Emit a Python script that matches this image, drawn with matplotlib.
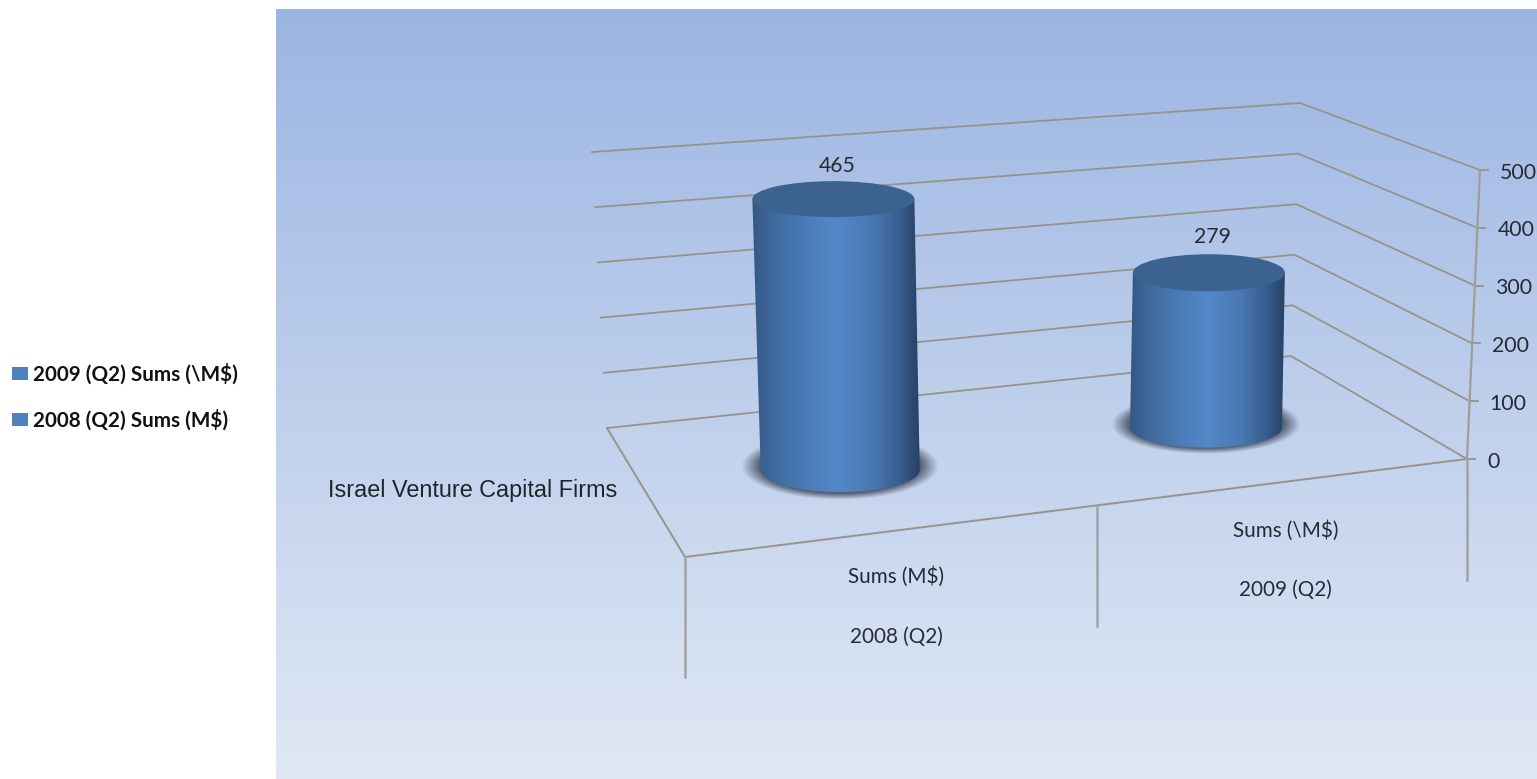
import numpy as np
import matplotlib
matplotlib.use("Agg")
import matplotlib.pyplot as plt
from matplotlib.patches import Ellipse, Patch, PathPatch
from matplotlib.path import Path

W, H = 1537, 779

years = ["2008 (Q2)", "2009 (Q2)"]
measures = ["Sums (M$)", "Sums (\\M$)"]
sums = [465, 279]
value_ticks = [0, 100, 200, 300, 400, 500]
legend_labels = ["2009 (Q2) Sums (\\M$)", "2008 (Q2) Sums (M$)"]
floor_title = "Israel Venture Capital Firms"

VMAX = 500.0
# corners of the 3d box in pixels: (across, depth) -> base, top
BASE = {(0, 0): (607, 428), (1, 0): (1291, 356), (0, 1): (685, 557), (1, 1): (1467, 459)}
TOP = {(0, 0): (592, 152), (1, 0): (1300, 103), (0, 1): (672, 236), (1, 1): (1480, 170)}

GRID = "#98938a"
BAR = "#4f81bd"
TEXT = "#262b33"


def project(u, d, v):
    def blend(c):
        p = np.array(c[(0, 0)]) * (1 - u) * (1 - d) + np.array(c[(1, 0)]) * u * (1 - d)
        return p + np.array(c[(0, 1)]) * (1 - u) * d + np.array(c[(1, 1)]) * u * d
    return blend(BASE) + (blend(TOP) - blend(BASE)) * v / VMAX


fig = plt.figure(figsize=(W / 100, H / 100), dpi=100)
ax = fig.add_axes([0, 0, 1, 1])
ax.axis("off")

# panel background
grad_pos = [0.0, 0.5, 1.0]
grad_col = np.array([[155, 181, 227], [190, 207, 236], [224, 232, 245]]) / 255
t = np.linspace(0, 1, 400)
panel = np.stack([np.interp(t, grad_pos, grad_col[:, i]) for i in range(3)], axis=1)[:, None, :]
ax.imshow(panel, extent=(276, W, H, 9), aspect="auto", zorder=0)

# walls and floor
for v in value_ticks:
    pts = np.array([project(0, 0, v), project(1, 0, v), project(1, 1, v)])
    ax.plot(pts[:, 0], pts[:, 1], color=GRID, lw=1.3, zorder=2)
    ax.plot([pts[2, 0], pts[2, 0] + 8], [pts[2, 1], pts[2, 1]], color=GRID, lw=1.3, zorder=2)
    ax.text(pts[2, 0] + 20, pts[2, 1] + 2.5, str(v), fontsize=15.3, family="Lato", color=TEXT,
            ha="left", va="center", zorder=6)

floor = np.array([project(1, 1, 0), project(0, 1, 0), project(0, 0, 0)])
ax.plot(floor[:, 0], floor[:, 1], color=GRID, lw=1.4, zorder=2)
axis_line = np.array([project(1, 1, 0), project(1, 1, VMAX)])
ax.plot(axis_line[:, 0], axis_line[:, 1], color="#a09d98", lw=1.6, zorder=2)

# category dividers below the floor
for u, drop in zip([0.0, 0.527, 1.0], [120, 121, 121]):
    x, y = project(u, 1, 0)
    ax.plot([x, x], [y, y + drop], color="#a3a3a3", lw=1.8, zorder=2)

bar_u = [0.265, 0.764]
half_w = [81, 76]
base_w = [79.5, 76]
top_h = [18, 18.5]
base_h = [22, 20]
label_gap = [33, 36]
shadow = [(99, 34), (95, 30)]
stops = [0.0, 0.12, 0.3, 0.5, 0.72, 0.88, 1.0]
stop_col = np.array([[52, 88, 132], [62, 105, 156], [74, 122, 181], [83, 136, 201],
                     [73, 120, 178], [56, 94, 142], [38, 66, 102]]) / 255
ramp = np.linspace(0, 1, 256)
shade = np.stack([np.interp(ramp, stops, stop_col[:, i]) for i in range(3)], axis=1)[None, :, :]

for u, val, hw, bw, th, bh, gap, sh in zip(bar_u, sums, half_w, base_w, top_h, base_h, label_gap, shadow):
    bx, by = project(u, 0.5, 0)
    tx, ty = project(u, 0.5, val)

    # soft contact shadow
    sx = np.linspace(bx - sh[0] - 3, bx + sh[0] + 3, 220)
    sy = np.linspace(by - sh[1] - 3, by + sh[1] + 3, 90)
    xx, yy = np.meshgrid(sx, sy)
    r = np.sqrt(((xx - bx) / sh[0]) ** 2 + ((yy - by + 4) / sh[1]) ** 2)
    rgba = np.zeros(r.shape + (4,))
    rgba[..., :3] = np.array([82, 92, 112]) / 255
    rgba[..., 3] = np.clip((1 - r) / 0.18, 0, 1) * 0.95
    ax.imshow(rgba, extent=(sx[0], sx[-1], sy[-1], sy[0]), aspect="auto", zorder=3,
              interpolation="bilinear")

    # cylinder side, shaded across its width
    k = 0.5523
    verts = [(tx - hw, ty), (bx - bw, by),
             (bx - bw, by + k * bh), (bx - k * bw, by + bh), (bx, by + bh),
             (bx + k * bw, by + bh), (bx + bw, by + k * bh), (bx + bw, by),
             (tx + hw, ty), (tx - hw, ty)]
    codes = [Path.MOVETO, Path.LINETO, Path.CURVE4, Path.CURVE4, Path.CURVE4,
             Path.CURVE4, Path.CURVE4, Path.CURVE4, Path.LINETO, Path.CLOSEPOLY]
    outline = PathPatch(Path(verts, codes), facecolor="none", edgecolor="none",
                        transform=ax.transData)
    ax.add_patch(outline)
    left = min(tx - hw, bx - bw)
    right = max(tx + hw, bx + bw)
    im = ax.imshow(shade, extent=(left, right, by + bh, ty), aspect="auto", zorder=4)
    im.set_clip_path(outline)

    ax.add_patch(Ellipse((tx, ty), 2 * hw, 2 * th, facecolor="#3c628f", edgecolor="none", zorder=5))
    ax.text(tx + 4, ty - gap, str(val), fontsize=15.3, family="Lato", color=TEXT,
            ha="center", va="center", zorder=6)

# category labels under the floor
label_u = [0.27, 0.768]
label_drop = [(46, 106), (49, 108)]
for u, year, measure, drop in zip(label_u, years, measures, label_drop):
    x, y = project(u, 1, 0)
    ax.text(x, y + drop[0], measure, fontsize=14.9, family="Lato", color=TEXT, ha="center", va="center", zorder=6)
    ax.text(x, y + drop[1], year, fontsize=14.9, family="Lato", color=TEXT, ha="center", va="center", zorder=6)

ax.text(328, 490, floor_title, fontsize=16.8, family="Liberation Sans", color="#20242a",
        ha="left", va="center", zorder=6)

handles = [Patch(facecolor=BAR, edgecolor="none", label=s) for s in legend_labels]
ax.legend(handles=handles, loc="upper left", bbox_to_anchor=(8, 359), bbox_transform=ax.transData,
          frameon=False, prop={"family": "Lato", "size": 14.9, "weight": "bold"},
          handlelength=0.75, handleheight=0.6, handletextpad=0.27, labelspacing=1.22,
          borderpad=0.2, borderaxespad=0, labelcolor="#111111")

ax.set_xlim(0, W)
ax.set_ylim(H, 0)
fig.savefig("out.png", dpi=100, facecolor="white")
